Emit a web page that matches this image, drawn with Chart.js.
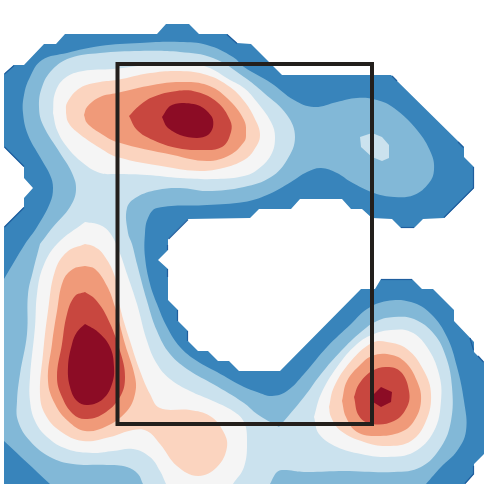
<!DOCTYPE html>
<html>
<head>
<meta charset="utf-8">
<style>html,body{margin:0;padding:0;background:#fff}canvas{display:block}</style>
<script src="https://cdn.jsdelivr.net/npm/chart.js@4/dist/chart.umd.min.js"></script>
</head>
<body>
<canvas id="c" width="488" height="488"></canvas>
<script>
const levelColors = ['#3884bb','#82b8d7','#cbe2ee','#f5f5f5','#fbd4bf','#f09a79','#c8473f','#8c0c25'];
const level1 = [[4,74],[14,65],[24,65],[44,44],[56,44],[65,34],[157,34],[166,24],[189,24],[199,34],[227,34],[237,43],[251,44],[282,75],[391,75],[464,147],[464,157],[474,167],[474,188],[444,218],[423,219],[414,228],[401,228],[392,219],[372,218],[362,209],[351,209],[342,199],[300,199],[291,209],[259,209],[250,218],[188,219],[168,239],[168,250],[158,260],[168,269],[168,300],[178,310],[178,321],[188,331],[188,341],[198,351],[208,351],[218,361],[229,361],[239,371],[280,371],[361,289],[375,289],[381,279],[412,279],[422,289],[433,289],[454,310],[454,321],[474,342],[474,352],[484,362],[484,454],[474,464],[474,474],[465,484],[4,484],[4,227],[24,207],[24,198],[33,188],[24,178],[24,167],[4,147]];
const level2 = [[4,279],[25,244],[37,227],[50,203],[53,188],[50,175],[40,157],[28,135],[23,113],[24,95],[30,77],[42,60],[67,53],[100,46],[140,43],[180,42],[207,45],[233,57],[244,67],[271,83],[294,100],[314,107],[337,102],[357,98],[377,100],[394,108],[417,130],[431,153],[434,170],[429,183],[414,195],[394,197],[374,193],[351,182],[337,173],[321,168],[307,172],[291,182],[267,195],[244,202],[207,205],[157,208],[148,218],[145,233],[145,257],[150,284],[157,304],[167,327],[180,347],[197,361],[217,372],[244,387],[257,392],[272,396],[287,391],[304,374],[327,347],[351,324],[367,309],[387,301],[411,302],[431,314],[447,337],[457,367],[464,401],[466,431],[457,451],[441,467],[426,484],[426,484],[50,484],[50,484],[4,441],[4,441],[4,279]];
const level3a = [[40,244],[53,227],[70,207],[76,190],[72,173],[60,153],[43,125],[39,107],[42,87],[52,70],[70,58],[100,53],[140,51],[180,52],[213,58],[244,77],[264,93],[287,115],[295,137],[287,160],[271,177],[244,187],[207,191],[180,188],[157,190],[137,197],[127,208],[128,233],[132,244],[137,264],[147,301],[157,331],[170,354],[190,371],[213,384],[244,403],[257,414],[279,427],[279,427],[304,397],[321,374],[341,351],[361,332],[377,321],[394,317],[414,319],[434,334],[446,357],[452,387],[451,421],[441,447],[421,467],[394,472],[344,471],[304,472],[284,470],[277,472],[270,484],[270,484],[143,484],[143,484],[138,474],[127,467],[107,465],[73,464],[50,457],[30,441],[18,421],[17,401],[20,374],[27,334],[28,294],[33,271]];
const level3b = [[360,137],[372,133],[382,137],[389,145],[389,158],[382,161],[372,157],[361,147]];
const level4a = [[53,113],[55,93],[65,78],[83,71],[113,69],[147,65],[180,63],[207,67],[230,80],[244,88],[257,102],[271,122],[275,137],[271,155],[257,170],[244,176],[217,179],[180,178],[147,175],[117,174],[100,173],[83,163],[67,147],[57,130]];
const level4b = [[85,222],[57,244],[43,267],[37,294],[35,327],[30,377],[30,401],[35,421],[47,437],[67,449],[93,453],[113,451],[133,449],[150,457],[160,471],[166,484],[166,484],[233,484],[233,484],[244,467],[247,441],[244,422],[233,411],[213,401],[190,391],[170,379],[157,364],[147,341],[137,304],[127,274],[119,251],[110,233],[100,225]];
const level4c = [[314,417],[321,394],[337,367],[357,344],[374,334],[391,330],[411,332],[427,347],[439,374],[441,401],[434,431],[414,452],[387,457],[361,454],[337,447],[319,434]];
const level5a = [[66,113],[67,103],[80,88],[100,82],[117,80],[150,73],[180,71],[207,75],[230,87],[244,101],[254,117],[260,135],[254,150],[244,160],[223,168],[200,171],[167,167],[117,157],[100,148],[77,132],[68,122]];
const level5b = [[85,244],[67,252],[55,271],[48,311],[43,354],[40,394],[45,414],[60,431],[83,441],[110,437],[133,430],[147,431],[160,444],[177,466],[198,476],[217,467],[227,447],[223,431],[210,416],[190,410],[160,408],[150,394],[140,371],[130,341],[120,307],[115,277],[103,254],[93,246]];
const level5c = [[329,407],[334,387],[351,361],[372,343],[387,342],[407,349],[424,371],[431,394],[426,421],[411,441],[387,446],[364,442],[341,431],[331,417]];
const level6a = [[84,115],[87,107],[100,97],[117,93],[153,85],[180,82],[207,85],[227,98],[244,120],[246,135],[244,142],[230,155],[207,161],[173,155],[117,142],[100,133],[87,123]];
const level6b = [[85,266],[73,269],[63,281],[57,311],[52,344],[48,381],[55,404],[68,421],[85,431],[107,426],[127,411],[135,394],[135,377],[125,344],[115,307],[107,286],[95,269]];
const level6c = [[342,401],[347,381],[361,364],[372,356],[387,354],[404,361],[417,381],[421,401],[414,421],[401,432],[377,436],[357,432],[346,417]];
const level7a = [[129,116],[129,116],[140,105],[153,97],[177,91],[197,92],[217,102],[230,120],[231,132],[222,147],[200,150],[177,148],[153,140],[137,130]];
const level7b = [[85,292],[75,296],[67,314],[62,344],[57,377],[62,397],[73,414],[85,419],[103,414],[120,397],[125,377],[120,351],[107,317],[95,299]];
const level7c = [[354,397],[359,384],[372,371],[387,367],[401,372],[409,391],[407,407],[394,421],[372,424],[359,416]];
const level8a = [[162,117],[170,106],[182,103],[200,106],[212,117],[213,127],[208,135],[197,138],[180,135],[167,127]];
const level8b = [[85,324],[77,332],[72,344],[68,367],[70,387],[77,401],[88,405],[103,399],[112,384],[114,367],[110,347],[98,332]];
const level8c = [[374,394],[381,387],[392,392],[391,402],[381,407],[373,402]];
const frame = [[117.5,64],[372,64],[372,424],[117.5,424],[117.5,64]];
const edgeColor = '#1f5e9e';
const edgeRuns = [
  [[4.5,74],[14,65.5]],[[227,34.5],[237,43.5]],[[4.5,147],[24,166.5]],[[24,207.5],[4.5,227]],
  [[168.5,239],[188,219.5]],[[392,76],[397,81]],[[458,142],[463.5,147.5]],
  [[473.5,167],[473.5,188],[444,217.5]],[[401,227.5],[414,227.5]],
  [[381,279.5],[412,279.5]],[[167.5,245],[167.5,250]],[[167.5,269],[167.5,277]],[[177.5,310],[177.5,321]],
  [[187.5,331],[187.5,341]],[[470,338],[473.5,350]],[[478,356],[483.5,362]],[[465,483.5],[473.5,474],[473.5,466]]
];

const toPts = a => a.map(p => ({x:p[0], y:p[1]}));
const layers = [
  [level1,0,0],[level2,1,0.4],[level3a,2,0.4],[level3b,2,0],[level4a,3,0.4],[level4b,3,0.4],[level4c,3,0.4],
  [level5a,4,0.4],[level5b,4,0.4],[level5c,4,0.4],[level6a,5,0.4],[level6b,5,0.4],[level6c,5,0.4],
  [level7a,6,0.4],[level7b,6,0.4],[level7c,6,0.4],[level8a,7,0.3],[level8b,7,0.4],[level8c,7,0]
];
const datasets = layers.map(([poly,c,t]) => ({
  data: toPts(poly.concat([poly[0]])), showLine:true, fill:'shape', tension:t, pointRadius:0,
  borderWidth:0, borderColor:levelColors[c], backgroundColor:levelColors[c]
}));
edgeRuns.forEach(run => datasets.push({data:toPts(run), showLine:true, fill:false, tension:0, pointRadius:0,
  borderWidth:1.2, borderColor:edgeColor}));
datasets.push({data:toPts(frame), showLine:true, fill:false, tension:0, pointRadius:0,
  borderWidth:4, borderColor:'#231f1c', borderJoinStyle:'miter', borderCapStyle:'square'});
datasets.reverse();
new Chart(document.getElementById('c'), {
  type:'scatter',
  data:{datasets},
  options:{
    responsive:false, animation:false, events:[],
    layout:{padding:0},
    plugins:{legend:{display:false},tooltip:{enabled:false},title:{display:false}},
    scales:{
      x:{type:'linear',min:0,max:488,display:false},
      y:{type:'linear',min:0,max:488,reverse:true,display:false}
    }
  }
});
</script>
</body>
</html>
